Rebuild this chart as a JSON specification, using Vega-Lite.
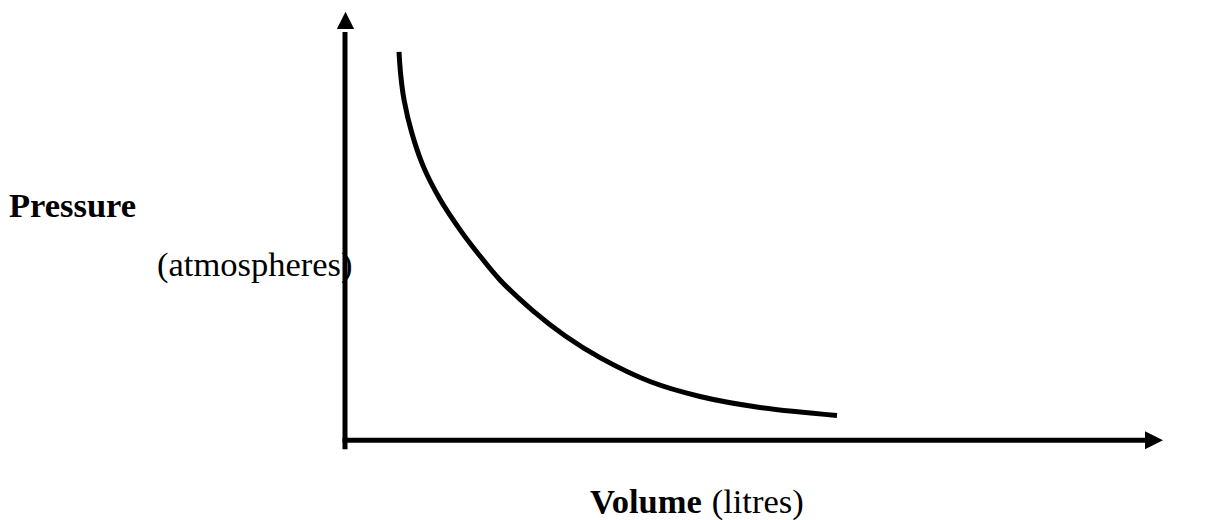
{
  "$schema": "https://vega.github.io/schema/vega-lite/v6.json",
  "width": 1205,
  "height": 520,
  "autosize": {"type": "fit", "contains": "padding"},
  "padding": 0,
  "background": "white",
  "config": {"view": {"stroke": null}},
  "datasets": {
    "curve": [
      {"volume": 5.4, "pressure": 39.0},
      {"volume": 5.57, "pressure": 36.7},
      {"volume": 5.9, "pressure": 34.2},
      {"volume": 6.67, "pressure": 30.9},
      {"volume": 7.83, "pressure": 27.5},
      {"volume": 9.5, "pressure": 24.2},
      {"volume": 11.67, "pressure": 20.9},
      {"volume": 13.5, "pressure": 18.5},
      {"volume": 15.5, "pressure": 16.1},
      {"volume": 18.8, "pressure": 13.0},
      {"volume": 22.0, "pressure": 10.5},
      {"volume": 25.5, "pressure": 8.3},
      {"volume": 30.5, "pressure": 5.9},
      {"volume": 35.5, "pressure": 4.4},
      {"volume": 41.5, "pressure": 3.3},
      {"volume": 49.2, "pressure": 2.5}
    ],
    "axes": [
      {"v1": 0, "v2": 0, "p1": -0.9, "p2": 41.0},
      {"v1": -0.25, "v2": 80.2, "p1": 0, "p2": 0}
    ],
    "arrows": [
      {"volume": 0.05, "pressure": 42.15, "dir": "up"},
      {"volume": 80.9, "pressure": 0, "dir": "right"}
    ],
    "labels": [
      {"volume": -33.6, "pressure": 22.4, "text": "Pressure", "weight": "bold"},
      {"volume": -18.8, "pressure": 16.5, "text": "(atmospheres)", "weight": "normal"},
      {"volume": 24.5, "pressure": -7.3, "text": "Volume", "weight": "bold"},
      {"volume": 36.67, "pressure": -7.3, "text": "(litres)", "weight": "normal"}
    ]
  },
  "layer": [
    {
      "data": {"name": "axes"},
      "mark": {"type": "rule", "color": "black", "strokeWidth": 5, "strokeCap": "butt"},
      "encoding": {
        "x": {"field": "v1", "type": "quantitative", "scale": {"domain": [-34.5, 86], "nice": false, "zero": false}, "axis": null},
        "x2": {"field": "v2"},
        "y": {"field": "p1", "type": "quantitative", "scale": {"domain": [-7.8, 44.2], "nice": false, "zero": false}, "axis": null},
        "y2": {"field": "p2"}
      }
    },
    {
      "data": {"name": "arrows"},
      "transform": [{"filter": "datum.dir === 'up'"}],
      "mark": {"type": "point", "shape": "M0,-1L-1,1L1,1Z", "filled": true, "color": "black", "size": 300, "strokeWidth": 0, "opacity": 1},
      "encoding": {
        "x": {"field": "volume", "type": "quantitative", "scale": {"domain": [-34.5, 86], "nice": false, "zero": false}, "axis": null},
        "y": {"field": "pressure", "type": "quantitative", "scale": {"domain": [-7.8, 44.2], "nice": false, "zero": false}, "axis": null}
      }
    },
    {
      "data": {"name": "arrows"},
      "transform": [{"filter": "datum.dir === 'right'"}],
      "mark": {"type": "point", "shape": "M1,0L-1,-1L-1,1Z", "filled": true, "color": "black", "size": 324, "strokeWidth": 0, "opacity": 1},
      "encoding": {
        "x": {"field": "volume", "type": "quantitative", "scale": {"domain": [-34.5, 86], "nice": false, "zero": false}, "axis": null},
        "y": {"field": "pressure", "type": "quantitative", "scale": {"domain": [-7.8, 44.2], "nice": false, "zero": false}, "axis": null}
      }
    },
    {
      "data": {"name": "curve"},
      "mark": {"type": "line", "color": "black", "strokeWidth": 5, "interpolate": "catmull-rom", "strokeCap": "butt"},
      "encoding": {
        "x": {"field": "volume", "type": "quantitative", "scale": {"domain": [-34.5, 86], "nice": false, "zero": false}, "axis": null},
        "y": {"field": "pressure", "type": "quantitative", "scale": {"domain": [-7.8, 44.2], "nice": false, "zero": false}, "axis": null}
      }
    },
    {
      "data": {"name": "labels"},
      "transform": [{"filter": "datum.weight === 'bold'"}],
      "mark": {"type": "text", "font": "Liberation Serif", "fontSize": 34.5, "fontWeight": "bold", "align": "left", "baseline": "alphabetic", "color": "black"},
      "encoding": {
        "x": {"field": "volume", "type": "quantitative", "scale": {"domain": [-34.5, 86], "nice": false, "zero": false}, "axis": null},
        "y": {"field": "pressure", "type": "quantitative", "scale": {"domain": [-7.8, 44.2], "nice": false, "zero": false}, "axis": null},
        "text": {"field": "text"}
      }
    },
    {
      "data": {"name": "labels"},
      "transform": [{"filter": "datum.weight === 'normal'"}],
      "mark": {"type": "text", "font": "Liberation Serif", "fontSize": 34.5, "fontWeight": "normal", "align": "left", "baseline": "alphabetic", "color": "black"},
      "encoding": {
        "x": {"field": "volume", "type": "quantitative", "scale": {"domain": [-34.5, 86], "nice": false, "zero": false}, "axis": null},
        "y": {"field": "pressure", "type": "quantitative", "scale": {"domain": [-7.8, 44.2], "nice": false, "zero": false}, "axis": null},
        "text": {"field": "text"}
      }
    }
  ]
}
